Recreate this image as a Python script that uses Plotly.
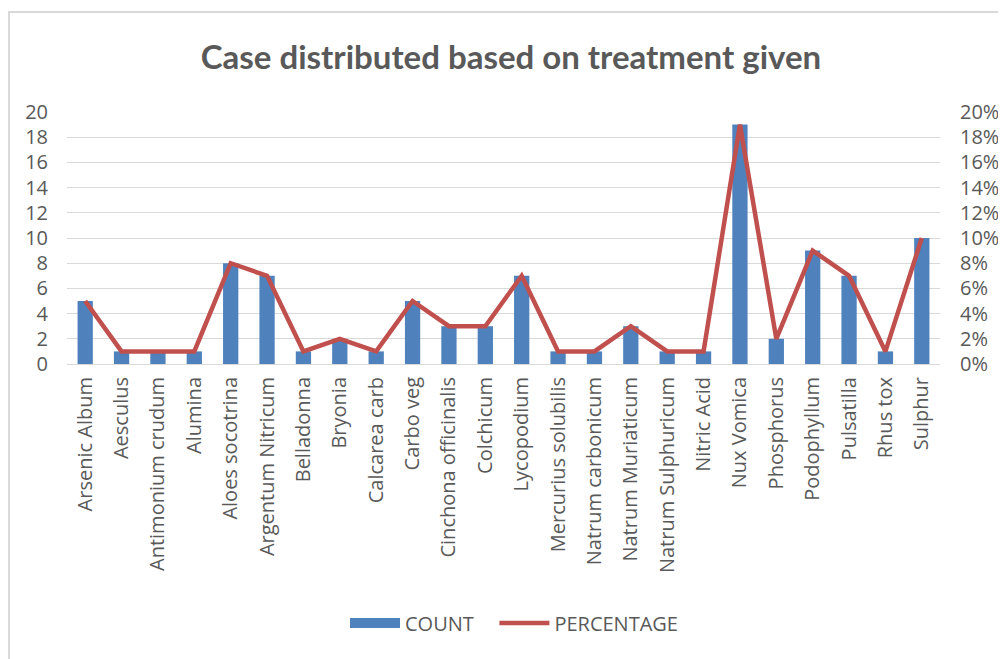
import plotly.graph_objects as go

categories = ["Arsenic Album", "Aesculus", "Antimonium crudum", "Alumina", "Aloes socotrina",
              "Argentum Nitricum", "Belladonna", "Bryonia", "Calcarea carb", "Carbo veg",
              "Cinchona officinalis", "Colchicum", "Lycopodium", "Mercurius solubilis",
              "Natrum carbonicum", "Natrum Muriaticum", "Natrum Sulphuricum", "Nitric Acid",
              "Nux Vomica", "Phosphorus", "Podophyllum", "Pulsatilla", "Rhus tox", "Sulphur"]
count = [5, 1, 1, 1, 8, 7, 1, 2, 1, 5, 3, 3, 7, 1, 1, 3, 1, 1, 19, 2, 9, 7, 1, 10]
percentage = [0.05, 0.01, 0.01, 0.01, 0.08, 0.07, 0.01, 0.02, 0.01, 0.05, 0.03, 0.03, 0.07,
              0.01, 0.01, 0.03, 0.01, 0.01, 0.19, 0.02, 0.09, 0.07, 0.01, 0.10]

FONT = "Open Sans"
TITLE_FONT = "Lato"
GRAY = "#595959"
BLUE = "#4F81BD"
RED = "#C0504D"

# page body margin offset (screen = figure + O)
O = 8
W, H = 1006 - O, 659 - O
L = 67 - O
T = 112 - O
R = W - (940 - O)
B = H - (364 - O)
pw, ph = W - L - R, H - T - B

def px(sx):
    return (sx - O - L) / pw

def py(sy):
    return (H - B - (sy - O)) / ph

fig = go.Figure()
fig.add_trace(go.Bar(x=categories, y=count, name="COUNT", marker=dict(color=BLUE, line_width=0),
                     width=0.42, showlegend=False, legendgroup="count"))
# legend swatch for COUNT (wide rectangle like the reference)
fig.add_trace(go.Scatter(x=[categories[0]], y=[None], name="COUNT&nbsp;&nbsp;&nbsp;",
                         mode="lines", line=dict(color=BLUE, width=14), legendgroup="count",
                         hoverinfo="skip"))
fig.add_trace(go.Scatter(x=categories, y=percentage, name="PERCENTAGE", yaxis="y2", mode="lines",
                         line=dict(color=RED, width=4.5)))

fig.update_layout(
    width=W, height=H,
    margin=dict(l=L, r=R, t=T, b=B, autoexpand=False),
    paper_bgcolor="white", plot_bgcolor="white",
    font=dict(family=FONT, color=GRAY, size=20),
    title=dict(text="<b>Case distributed based on treatment given</b>", x=(511 - O) / W,
               xanchor="center", y=1 - (57 - O) / H, yanchor="middle",
               font=dict(size=33, color=GRAY, family=TITLE_FONT)),
    xaxis=dict(tickangle=-90, showgrid=False, showline=True, linecolor="#D9D9D9", linewidth=1,
               ticks="", tickfont=dict(size=20, color=GRAY), ticklabelstandoff=4, automargin=False),
    yaxis=dict(range=[0, 20], dtick=2, showgrid=True, gridcolor="#D9D9D9", gridwidth=1,
               zeroline=False, showline=False, ticks="", tickfont=dict(size=20, color=GRAY),
               ticklabelstandoff=18, automargin=False),
    yaxis2=dict(range=[0, 0.2], dtick=0.02, tickformat=".0%", overlaying="y", side="right",
                showgrid=False, zeroline=False, showline=False, ticks="",
                tickfont=dict(size=20, color=GRAY), ticklabelstandoff=19, automargin=False),
    legend=dict(orientation="h", x=px(514), xanchor="center", y=py(623),
                yanchor="middle", font=dict(size=20, color=GRAY), traceorder="normal",
                itemwidth=50),
    showlegend=True,
    shapes=[dict(type="rect", xref="paper", yref="paper", x0=px(9), x1=px(1020), y0=py(680),
                 y1=py(12), line=dict(color="#D9D9D9", width=2), fillcolor="rgba(0,0,0,0)",
                 layer="below")],
)

fig.write_html("out.html")
